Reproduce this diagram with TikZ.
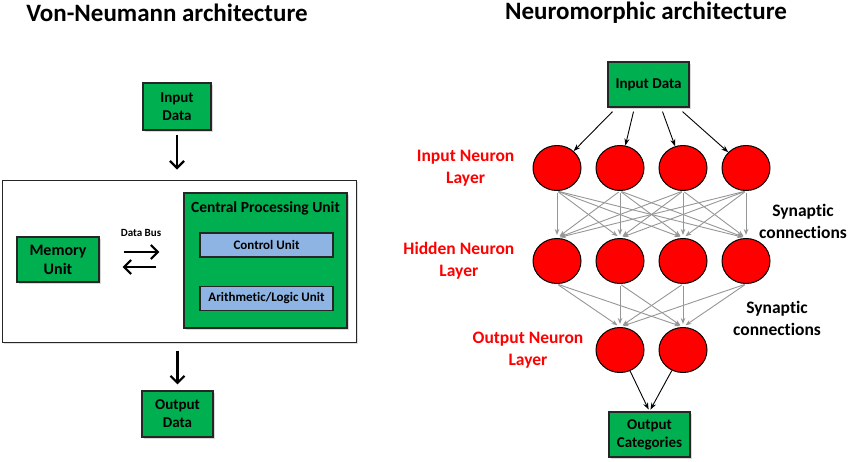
\documentclass[tikz,border=0pt]{standalone}
\usepackage{fontspec}
\setmainfont[Ligatures=NoCommon]{Carlito}
\usetikzlibrary{arrows.meta, positioning, shapes.geometric, shadows}
\definecolor{boxgreen}{RGB}{0,176,80}
\definecolor{unitblue}{RGB}{141,180,226}
\definecolor{cellred}{RGB}{255,0,0}
\definecolor{syngray}{RGB}{150,150,150}
\tikzstyle{heading}    = [font=\bfseries\fontsize{25}{30}\selectfont, inner sep=0pt]
\tikzstyle{block}      = [rectangle, draw=black!85, line width=1.2pt, fill=boxgreen, align=center,
                          font=\bfseries\fontsize{15}{18}\selectfont,
                          drop shadow={shadow xshift=1.5pt, shadow yshift=-1.5pt, opacity=0.3}]
\tikzstyle{subunit}    = [rectangle, draw=black!85, line width=1.2pt, fill=unitblue,
                          minimum width=133pt, minimum height=24pt, inner sep=0pt,
                          font=\bfseries\fontsize{13}{15}\selectfont,
                          drop shadow={shadow xshift=1.2pt, shadow yshift=-1.2pt, opacity=0.3}]
\tikzstyle{neuron}     = [ellipse, draw=black, line width=1pt, fill=cellred,
                          minimum width=48pt, minimum height=45pt, inner sep=0pt]
\tikzstyle{layerlabel} = [text=cellred, align=center, inner sep=0pt,
                          font=\bfseries\fontsize{17.5}{22}\selectfont]
\tikzstyle{synlabel}   = [align=center, inner sep=0pt, font=\bfseries\fontsize{17.5}{22}\selectfont]
\tikzstyle{bigarr}     = [-{Straight Barb[length=7pt,width=14pt]}, line width=2.2pt]
\tikzstyle{feed}       = [-{Stealth[length=7pt,width=5pt]}, line width=0.9pt]
\tikzstyle{syn}        = [-{Stealth[length=6pt,width=4.5pt]}, draw=syngray, line width=0.9pt,
                          shorten <=1.5pt, shorten >=3pt]

\begin{document}
\begin{tikzpicture}[x=1pt, y=-1pt]
    \useasboundingbox (0,0) rectangle (850,461);

    % Von-Neumann side
    \node[heading] (vntitle) at (167,13) {Von-Neumann architecture};
    \node[block, minimum width=68pt, minimum height=47pt] (vnin) at (177,106.5) {Input\\Data};
    \node[rectangle, draw=black!85, line width=1pt, fill=white, minimum width=354pt, minimum height=162pt,
          drop shadow={shadow xshift=1.5pt, shadow yshift=-1.5pt, opacity=0.25}] (sys) at (179,261) {};
    \node[block, minimum width=82pt, minimum height=45pt, font=\bfseries\fontsize{16}{19}\selectfont] (mem) at (58,259.5) {Memory\\Unit};
    \node[block, minimum width=163pt, minimum height=135pt] (cpu) at (265.5,260.5) {};
    \node[inner sep=0pt, font=\bfseries\fontsize{15.5}{18}\selectfont, below=9pt of cpu.north] (cpulbl) {Central Processing Unit};
    \node[subunit] (ctrl) at (266.5,245) {Control Unit};
    \node[subunit, below=28pt of ctrl] (alu) {Arithmetic/Logic Unit};
    \node[inner sep=0pt, font=\bfseries\fontsize{11}{13}\selectfont] (bus) at (141,233) {Data Bus};
    \node[block, minimum width=71pt, minimum height=46pt] (vnout) at (177.5,414) {Output\\Data};

    \draw[bigarr, shorten <=4pt, shorten >=10pt] (vnin.south) -- (vnin.south |- sys.north);
    \draw[bigarr, shorten <=24pt, shorten >=24pt] ([yshift=7.5pt]mem.east) -- ([yshift=7.5pt]mem.east -| cpu.west);
    \draw[bigarr, shorten <=27pt, shorten >=23pt] ([yshift=-7.5pt]mem.east -| cpu.west) -- ([yshift=-7.5pt]mem.east);
    \draw[bigarr, shorten <=8pt, shorten >=6pt] (vnout.north |- sys.south) -- (vnout.north);

    % Neuromorphic side
    \node[heading] (nmtitle) at (646,13) {Neuromorphic architecture};
    \node[block, minimum width=81pt, minimum height=45pt] (nin) at (648.5,84.5) {Input Data};

    \node[neuron] (in1) at (557,168) {};
    \node[neuron, right=14pt of in1] (in2) {};
    \node[neuron, right=14pt of in2] (in3) {};
    \node[neuron, right=14pt of in3] (in4) {};

    \node[neuron, below=47pt of in1] (hid1) {};
    \node[neuron, right=14pt of hid1] (hid2) {};
    \node[neuron, right=14pt of hid2] (hid3) {};
    \node[neuron, right=14pt of hid3] (hid4) {};

    \node[neuron, below=43pt of hid2] (out1) {};
    \node[neuron, below=43pt of hid3] (out2) {};

    \node[block, minimum width=81pt, minimum height=45pt] (nout) at (649.5,434.5) {Output\\Categories};

    \node[layerlabel, left=18pt of in1] (inlbl) {Input Neuron\\Layer};
    \node[layerlabel, left=18pt of hid1] (hidlbl) {Hidden Neuron\\Layer};
    \node[layerlabel, left=12pt of out1] (outlbl) {Output Neuron\\Layer};
    \node[synlabel] (syn1) at (803,221) {Synaptic\\connections};
    \node[synlabel] (syn2) at (777,318) {Synaptic\\connections};

    \draw[feed] ([xshift=-36pt, yshift=-4pt]nin.south) -- (in1);
    \draw[feed] ([xshift=-15pt, yshift=-4pt]nin.south) -- (in2);
    \draw[feed] ([xshift=14pt, yshift=-4pt]nin.south) -- (in3);
    \draw[feed] ([xshift=34pt, yshift=-4pt]nin.south) -- (in4);

    \foreach \i in {1,...,4}
        \foreach \j in {1,...,4}
            \draw[syn] (in\i.south) -- (hid\j.north);
    \foreach \i in {1,...,4}
        \foreach \j in {1,2}
            \draw[syn] (hid\i.south) -- (out\j.north);

    \draw[feed, shorten >=2pt] (out1) -- (nout.north);
    \draw[feed, shorten >=2pt] (out2) -- (nout.north);
\end{tikzpicture}
\end{document}
